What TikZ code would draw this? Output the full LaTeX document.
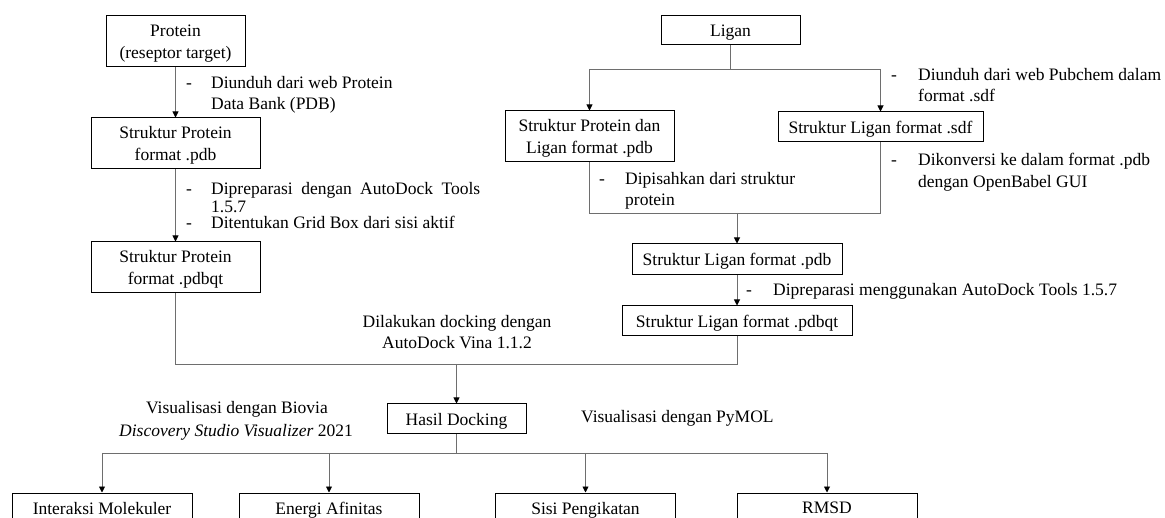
\documentclass[tikz,border=0pt]{standalone}
\usepackage{fontspec}
\setmainfont{Liberation Serif}
\usetikzlibrary{arrows.meta}
\definecolor{linegray}{RGB}{110,110,110}
\begin{document}
\begin{tikzpicture}[x=1pt,y=-1pt,
  every node/.style={font=\fontsize{17.5}{21.5}\selectfont},
  box/.style={draw=black, line width=1pt, inner sep=0pt, align=center, text depth=0pt},
  conn/.style={draw=linegray, line width=0.9pt},
  arr/.style={conn, -{Triangle[width=6pt,length=6pt,color=black]}},
  lbl/.style={inner sep=0pt, anchor=base west},
  clbl/.style={inner sep=0pt, anchor=base}]
\useasboundingbox (0,0) rectangle (1165,518);
\clip (0,0) rectangle (1165,518);
% boxes
\node[box, minimum width=139pt, minimum height=51pt] (protein) at (175.5,41.5) {Protein\\(reseptor target)};
\node[box, minimum width=169pt, minimum height=51pt] (spdb) at (175.5,143.5) {Struktur Protein\\format .pdb};
\node[box, minimum width=169pt, minimum height=51pt] (spdbqt) at (175.5,267.5) {Struktur Protein\\format .pdbqt};
\node[box, minimum width=139pt, minimum height=29pt] (ligan) at (730.5,30.5) {Ligan};
\node[box, minimum width=169pt, minimum height=51pt] (spl) at (589.5,136.5) {Struktur Protein dan\\Ligan format .pdb};
\node[box, minimum width=205pt, minimum height=30pt] (ssdf) at (880.5,127) {Struktur Ligan format .sdf};
\node[box, minimum width=210pt, minimum height=31pt] (slpdb) at (737,259.5) {Struktur Ligan format .pdb};
\node[box, minimum width=230pt, minimum height=30pt] (slpdbqt) at (737,321) {Struktur Ligan format .pdbqt};
\node[box, minimum width=139pt, minimum height=30pt] (hasil) at (456.5,419) {Hasil Docking};
\node[box, minimum width=180pt, minimum height=30pt] (interaksi) at (102,508) {Interaksi Molekuler};
\node[box, minimum width=180pt, minimum height=30pt] (energi) at (329,508) {Energi Afinitas};
\node[box, minimum width=180pt, minimum height=30pt] (sisi) at (585.5,508) {Sisi Pengikatan};
\node[box, minimum width=180pt, minimum height=30pt] (rmsd) at (827,508) {RMSD};
% connectors
\draw[arr] (protein.south) -- (spdb.north);
\draw[arr] (spdb.south) -- (spdbqt.north);
\coordinate (lj) at (730.5,69);
\draw[conn] (ligan.south) -- (lj);
\draw[conn] (spl.north |- lj) -- (ssdf.north |- lj);
\draw[arr] (spl.north |- lj) -- (spl.north);
\draw[arr] (ssdf.north |- lj) -- (ssdf.north);
\coordinate (mj) at (737,213);
\draw[conn] (spl.south) -- (spl.south |- mj) -- (ssdf.south |- mj) -- (ssdf.south);
\draw[arr] (slpdb.north |- mj) -- (slpdb.north);
\draw[arr] (slpdb.south) -- (slpdbqt.north);
\coordinate (dj) at (457,364);
\draw[conn] (spdbqt.south) -- (spdbqt.south |- dj) -- (slpdbqt.south |- dj) -- (slpdbqt.south);
\draw[arr] (hasil.north |- dj) -- (hasil.north);
\coordinate (hj) at (456.5,453);
\draw[conn] (hasil.south) -- (hj);
\draw[conn] (interaksi.north |- hj) -- (rmsd.north |- hj);
\foreach \n in {interaksi,energi,sisi,rmsd} \draw[arr] (\n.north |- hj) -- (\n.north);
% labels
\node[lbl] (d1) at (186,89) {-};
\node[lbl] (t1a) at (211,89) {Diunduh dari web Protein};
\node[lbl] (t1b) at (211,110) {Data Bank (PDB)};
\node[lbl] (d2) at (186,195) {-};
\node[lbl] (t2a) at (211,195) {\makebox[269pt][s]{Dipreparasi dengan AutoDock Tools}};
\node[lbl] (t2b) at (211,212.5) {1.5.7};
\node[lbl] (d3) at (186,229) {-};
\node[lbl] (t2c) at (211,229) {Ditentukan Grid Box dari sisi aktif};
\node[lbl] (d4) at (891,81) {-};
\node[lbl] (t4a) at (918,81) {Diunduh dari web Pubchem dalam};
\node[lbl] (t4b) at (918,102) {format .sdf};
\node[lbl] (d5) at (891,166) {-};
\node[lbl] (t5a) at (918,166) {Dikonversi ke dalam format .pdb};
\node[lbl] (t5b) at (918,188) {dengan OpenBabel GUI};
\node[lbl] (d6) at (599,185) {-};
\node[lbl] (t6a) at (625,185) {Dipisahkan dari struktur};
\node[lbl] (t6b) at (625,206) {protein};
\node[lbl] (d7) at (746,296) {-};
\node[lbl] (t7) at (773,296) {Dipreparasi menggunakan AutoDock Tools 1.5.7};
\node[clbl] (t8a) at (457,328) {Dilakukan docking dengan};
\node[clbl] (t8b) at (457,349) {AutoDock Vina 1.1.2};
\node[clbl] (t9a) at (237,414) {Visualisasi dengan Biovia};
\node[clbl] (t9b) at (236,437) {\textit{Discovery Studio Visualizer} 2021};
\node[lbl] (t10) at (581,423) {Visualisasi dengan PyMOL};
\end{tikzpicture}
\end{document}
